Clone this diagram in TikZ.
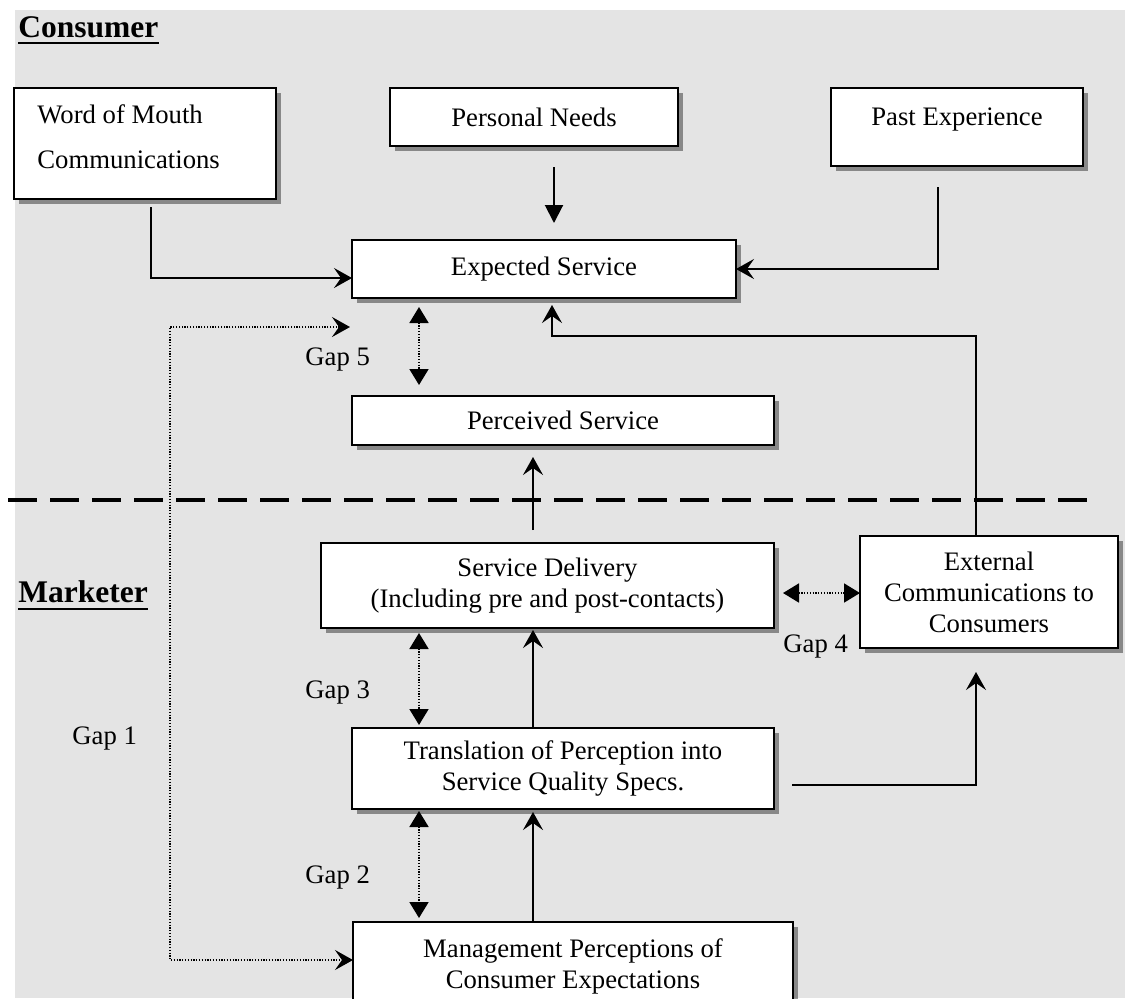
\documentclass[tikz,border=0pt]{standalone}
\usepackage{fontspec}
\setmainfont{Liberation Serif}
\usetikzlibrary{arrows.meta,calc,shadows}

\definecolor{paper}{HTML}{E4E4E4}

\tikzset{
  txt/.style={font=\fontsize{13.35}{15.5}\selectfont, inner sep=0pt},
  box/.style={draw, line width=1pt, fill=white, inner sep=0pt, outer sep=0pt, align=center, txt,
    drop shadow={shadow xshift=2.5pt, shadow yshift=-2.5pt, fill=black, opacity=0.4}},
  sz/.style 2 args={minimum width=#1, minimum height=#2},
  head/.style={font=\fontsize{15.75}{18}\selectfont\bfseries, inner sep=0pt},
  conn/.style={line width=1pt, -{Stealth[length=9pt, width=10pt, inset=3.5pt]}},
  down/.style={line width=1pt, -{Triangle[length=9pt, width=9pt]}},
  gap/.style={line width=0.9pt, dash pattern=on 0.6pt off 0.8pt,
    {Triangle[length=8pt, width=9.5pt]}-{Triangle[length=8pt, width=9.5pt]}},
  gapone/.style={line width=0.9pt, dash pattern=on 0.6pt off 0.8pt,
    {Stealth[length=9pt, width=10pt, inset=3.5pt]}-{Stealth[length=9pt, width=10pt, inset=3.5pt]}},
  divider/.style={line width=2pt, dash pattern=on 14.5pt off 6.5pt}
}

\begin{document}
\begin{tikzpicture}[x=0.5pt, y=-0.5pt]
  % page and grey sheet
  \useasboundingbox (0,0) rectangle (1125,998);
  \fill[white] (0,0) rectangle (1125,998);
  \fill[paper] (15,10) rectangle (1125,998);

  % section headings
  \node[head, anchor=base west] (hcons) at (18,37) {Consumer};
  \draw[line width=1pt] ([yshift=-3pt]hcons.base west) -- ([yshift=-3pt]hcons.base east);
  \node[head, anchor=base west] (hmark) at (18,602) {Marketer};
  \draw[line width=1pt] ([yshift=-3.5pt]hmark.base west) -- ([yshift=-3.5pt]hmark.base east);

  % consumer side boxes
  \node[box, sz={131pt}{55.5pt}] (wom) at (145,143.5) {};
  \node[txt, anchor=base west] (womA) at (37,123) {Word of Mouth};
  \node[txt, anchor=base west] (womB) at (37,168) {Communications};
  \node[box, sz={144pt}{29pt}] (pn) at (534,117) {Personal Needs};
  \node[box, sz={126pt}{39pt}] (past) at (957,127) {};
  \node[txt, anchor=base] (pastA) at (957,125) {Past Experience};
  \node[box, sz={192pt}{29pt}] (exp) at (544,269) {Expected Service};
  \node[box, sz={211pt}{24.5pt}] (perc) at (563,420.5) {Perceived Service};

  % marketer side boxes
  \node[box, sz={226.5pt}{42.5pt}] (sd) at (547.5,585.5) {Service Delivery\\(Including pre and post-contacts)};
  \node[box, sz={129pt}{56pt}] (ext) at (989,592) {External\\Communications to\\Consumers};
  \node[box, sz={211pt}{40.5pt}] (tr) at (563,768.5) {Translation of Perception into\\Service Quality Specs.};
  \node[box, sz={220pt}{44pt}] (mgmt) at (573,966) {Management Perceptions of\\Consumer Expectations};

  % boundary between consumer and marketer
  \coordinate (divL) at (8,500);
  \coordinate (divR) at (1093,500);
  \draw[divider] (divL) -- (divR);

  % influences on expected service
  \draw[conn] ($(wom.south)+(6,8)$) |- ($(exp.west)+(0,9)$);
  \draw[down] ($(pn.south)+(20,21)$) -- ($(exp.north)+(10,-17)$);
  \draw[conn] ($(past.south)+(-19,21)$) |- (exp.east);
  \draw[conn] ($(ext.north)+(-13,0)$) |- ($(exp.south)+(8,38)$) -- ($(exp.south)+(8,7)$);

  % marketer flow upwards
  \draw[conn] ($(sd.north)+(-14.5,-13)$) -- ($(perc.south)+(-30,12)$);
  \draw[conn] ($(tr.north)+(-30,0)$) -- ($(sd.south)+(-14.5,2)$);
  \draw[conn] ($(mgmt.north)+(-40,0)$) -- ($(tr.south)+(-30,3)$);
  \draw[conn] ($(tr.east)+(18,16.5)$) -| ($(ext.south)+(-13,24)$);

  % gaps
  \draw[gapone] ($(exp.south west)+(-2,29)$) -- ++(-180,0) |- ([yshift=3pt]mgmt.west);
  \draw[gap] ($(exp.south west)+(67,9)$) -- ($(perc.north west)+(67,-11)$);
  \draw[gap] ($(sd.east)+(9,7.5)$) -- ($(ext.west)+(0,1)$);
  \draw[gap] ($(sd.south west)+(98,5)$) -- ($(tr.north west)+(67,-3)$);
  \draw[gap] ($(tr.south west)+(67,2)$) -- ($(mgmt.north west)+(66,-4)$);

  \node[txt, anchor=base west] (g5) at (305,365) {Gap 5};
  \node[txt, anchor=base west] (g4) at (783,652) {Gap 4};
  \node[txt, anchor=base west] (g3) at (305,698) {Gap 3};
  \node[txt, anchor=base west] (g2) at (305,883) {Gap 2};
  \node[txt, anchor=base west] (g1) at (72,744) {Gap 1};
\end{tikzpicture}
\end{document}
